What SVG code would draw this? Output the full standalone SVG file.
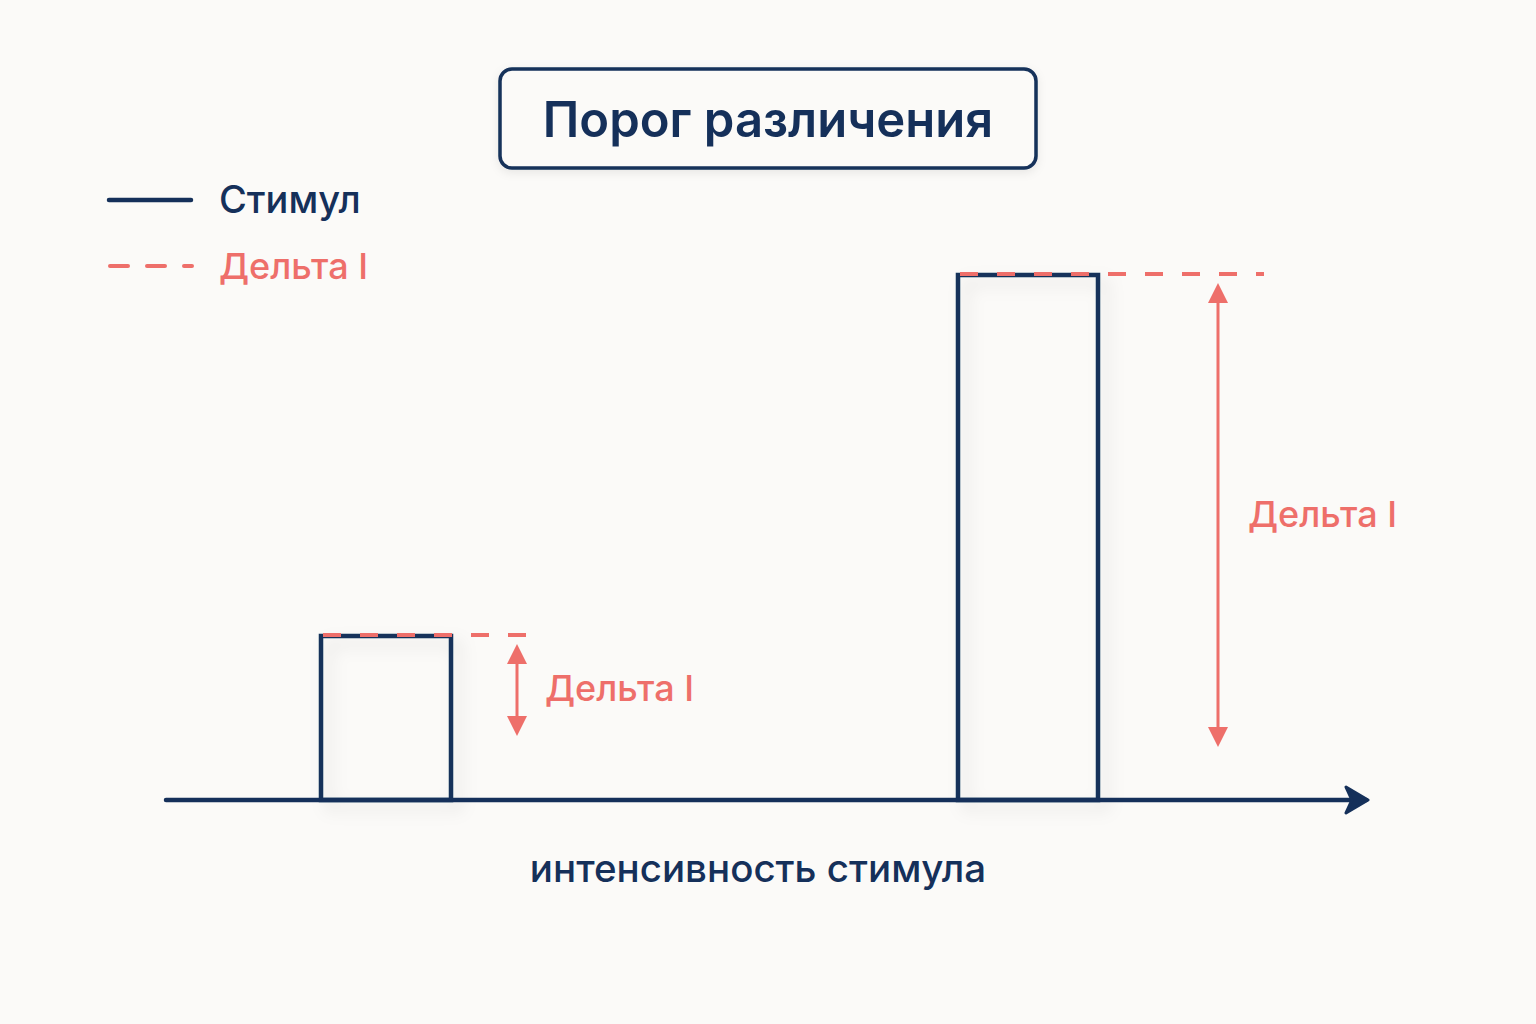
<svg xmlns="http://www.w3.org/2000/svg" width="1536" height="1024" viewBox="0 0 1536 1024">
  <defs>
    <style>
      .navy { stroke: #15305A; fill: none; }
      .red { stroke: #EE6F6A; fill: none; }
      .dash { stroke: #EE6F6A; stroke-width: 4; stroke-dasharray: 18 19; fill: none; }
      .t { font-family: Inter, "Noto Sans", "DejaVu Sans", sans-serif; }
      .tn { fill: #15305A; }
      .tr { fill: #EE6F6A; }
    </style>
    <marker id="redHead" viewBox="0 0 20 20" refX="2" refY="10" markerWidth="20" markerHeight="20" markerUnits="userSpaceOnUse" orient="auto-start-reverse">
      <path d="M0,0 L20,10 L0,20 Z" fill="#EE6F6A"/>
    </marker>
    <marker id="navyHead" viewBox="0 0 26 30" refX="22" refY="15" markerWidth="26" markerHeight="30" markerUnits="userSpaceOnUse" orient="auto">
      <path d="M2,2 L24,15 L2,28 L8,15 Z" fill="#15305A" stroke="#15305A" stroke-width="3" stroke-linejoin="round"/>
    </marker>
    <filter id="shadow" x="-20%" y="-20%" width="150%" height="150%">
      <feDropShadow dx="8" dy="8" stdDeviation="8" flood-color="#000" flood-opacity="0.10"/>
    </filter>
    <filter id="soft" x="-10%" y="-20%" width="120%" height="150%">
      <feDropShadow dx="0" dy="3" stdDeviation="5" flood-color="#000" flood-opacity="0.08"/>
    </filter>
  </defs>

  <rect x="0" y="0" width="1536" height="1024" fill="#FBFAF8"/>

  <g id="title">
    <rect x="500" y="69" width="536" height="99" rx="12" fill="#FBFAF8" stroke="#15305A" stroke-width="3.5" filter="url(#soft)"/>
    <text class="t tn" x="768" y="137" text-anchor="middle" font-size="49" font-weight="600">Порог различения</text>
  </g>

  <g id="legend">
    <line x1="109" y1="200" x2="191" y2="200" class="navy" stroke-width="4.5" stroke-linecap="round"/>
    <text class="t tn" x="219" y="213" font-size="38" font-weight="500">Стимул</text>
    <line x1="110" y1="266" x2="192" y2="266" class="dash" stroke-width="4.5" stroke-dasharray="12 21" stroke-linecap="round"/>
    <text class="t tr" x="219" y="279" font-size="36" font-weight="500">Дельта I</text>
  </g>

  <g id="bar-small">
    <rect x="321" y="636" width="130" height="164" fill="#FBFAF8" class="navy" stroke-width="4.5" filter="url(#shadow)"/>
  </g>

  <g id="bar-tall">
    <rect x="958" y="275" width="140" height="525" fill="#FBFAF8" class="navy" stroke-width="4.5" filter="url(#shadow)"/>
  </g>

  <g id="connectors">
    <line x1="166" y1="800" x2="1366" y2="800" class="navy" stroke-width="4.5" stroke-linecap="round" marker-end="url(#navyHead)"/>
    <line x1="323" y1="635" x2="534" y2="635" class="dash" stroke-dasharray="17 16"/>
    <line x1="960" y1="274" x2="1264" y2="274" class="dash"/>
    <line x1="517" y1="662" x2="517" y2="718" class="red" stroke-width="3" marker-start="url(#redHead)" marker-end="url(#redHead)"/>
    <line x1="1218" y1="301" x2="1218" y2="729" class="red" stroke-width="3" marker-start="url(#redHead)" marker-end="url(#redHead)"/>
  </g>

  <g id="labels">
    <text class="t tr" x="545" y="701" font-size="36" font-weight="500">Дельта I</text>
    <text class="t tr" x="1248" y="527" font-size="36" font-weight="500">Дельта I</text>
    <text class="t tn" x="758" y="882" text-anchor="middle" font-size="38.5" font-weight="500">интенсивность стимула</text>
  </g>
</svg>
